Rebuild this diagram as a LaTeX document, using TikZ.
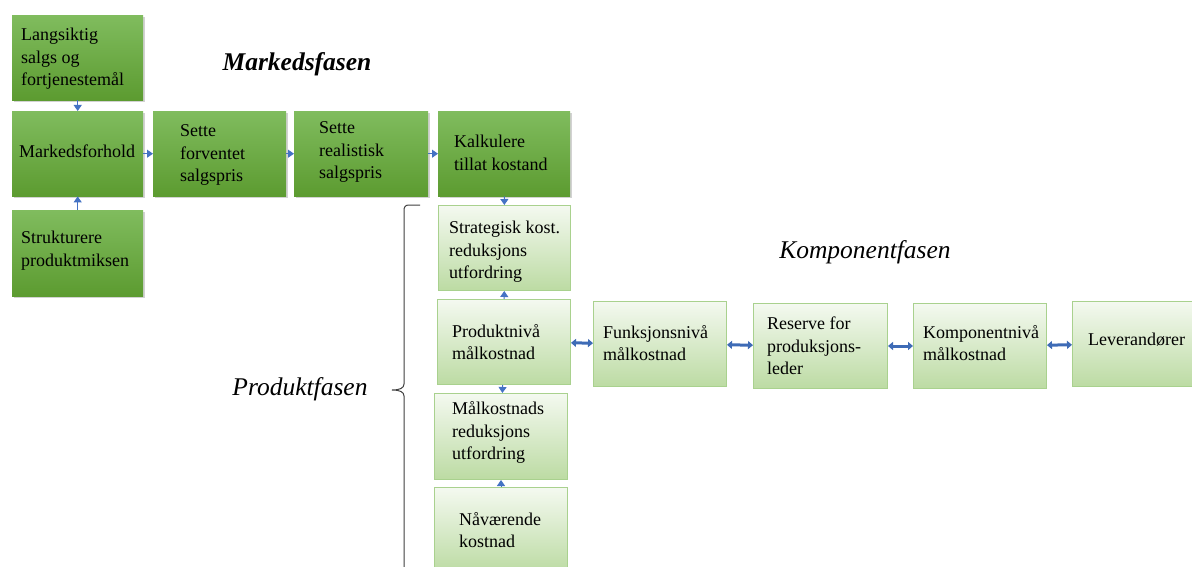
\documentclass[tikz,border=0pt]{standalone}
\usepackage{fontspec}
\setmainfont{LiberationSerif}[Extension=.ttf, UprightFont=*-Regular, BoldFont=*-Bold, ItalicFont=*-Italic, BoldItalicFont=*-BoldItalic]
\usetikzlibrary{arrows.meta,shadows}
\definecolor{dkTop}{HTML}{80BC5E}
\definecolor{dkBot}{HTML}{5C9B30}
\definecolor{ltTop}{HTML}{F4F9F0}
\definecolor{ltBot}{HTML}{BCDBA3}
\definecolor{ltBorder}{HTML}{A9D18E}
\definecolor{arr}{HTML}{4472C4}
\definecolor{darr}{HTML}{3E6BB6}
\tikzset{
  dbox/.style={anchor=north west, inner sep=0pt, draw=none, top color=dkTop, bottom color=dkBot,
    drop shadow={opacity=0.35, shadow xshift=1.5pt, shadow yshift=-2pt}},
  lbox/.style={anchor=north west, inner sep=0pt, draw=ltBorder, line width=1pt, top color=ltTop, bottom color=ltBot},
  txt/.style={anchor=west, align=left, inner sep=0pt, font=\rmfamily\fontsize{18}{22.5}\selectfont},
  sarrow/.style={draw=arr, line width=1pt, -{Triangle[length=6pt,width=8pt]}, shorten >=0pt},
  darrow/.style={draw=darr, line width=3pt, {Triangle[length=5pt,width=8pt]}-{Triangle[length=5pt,width=8pt]}},
  title/.style={inner sep=0pt, font=\rmfamily\fontsize{25.5}{30}\selectfont\itshape}
}
\begin{document}
\begin{tikzpicture}[x=1pt,y=-1pt]
\clip (0,0) rectangle (1192,567);
\fill[white] (0,0) rectangle (1192,567);
% dark green boxes
\node[dbox, minimum width=131pt, minimum height=85pt] (L) at (12,15) {};
\node[dbox, minimum width=131pt, minimum height=85pt] (M) at (12,111) {};
\node[dbox, minimum width=131pt, minimum height=86pt] (S) at (12,210) {};
\node[dbox, minimum width=133pt, minimum height=85pt] (F) at (153,111) {};
\node[dbox, minimum width=134pt, minimum height=85pt] (R) at (294,111) {};
\node[dbox, minimum width=132pt, minimum height=85pt] (K) at (438,111) {};
% light green boxes
\node[lbox, minimum width=132pt, minimum height=85pt] (ST) at (438,205) {};
\node[lbox, minimum width=133pt, minimum height=85pt] (P) at (437,299) {};
\node[lbox, minimum width=133pt, minimum height=86pt] (MK) at (434,393) {};
\node[lbox, minimum width=133pt, minimum height=85pt] (N) at (434,487) {};
\node[lbox, minimum width=133pt, minimum height=85pt] (FN) at (593,301) {};
\node[lbox, minimum width=134pt, minimum height=85pt] (RS) at (753,303) {};
\node[lbox, minimum width=133pt, minimum height=85pt] (KN) at (913,303) {};
\node[lbox, minimum width=125pt, minimum height=85pt] (LV) at (1072,301) {};
% texts
\node[txt] (tL) at ([xshift=9pt,yshift=-1pt]L.west) {Langsiktig\\salgs og\\fortjenestemål};
\node[txt] (tM) at ([xshift=7pt,yshift=2.5pt]M.west) {Markedsforhold};
\node[txt] (tS) at ([xshift=9pt,yshift=2.5pt]S.west) {Strukturere\\produktmiksen};
\node[txt] (tF) at ([xshift=27pt,yshift=-1.5pt]F.west) {Sette\\forventet\\salgspris};
\node[txt] (tR) at ([xshift=25pt,yshift=1.5pt]R.west) {Sette\\realistisk\\salgspris};
\node[txt] (tK) at ([xshift=16pt,yshift=1pt]K.west) {Kalkulere\\tillat kostand};
\node[txt] (tST) at ([xshift=11pt,yshift=-4pt]ST.west) {Strategisk kost.\\reduksjons\\utfordring};
\node[txt] (tP) at ([xshift=15pt]P.west) {Produktnivå\\målkostnad};
\node[txt] (tMK) at ([xshift=18pt,yshift=4pt]MK.west) {Målkostnads\\reduksjons\\utfordring};
\node[txt] (tN) at ([xshift=25pt]N.west) {Nåværende\\kostnad};
\node[txt] (tFN) at ([xshift=10pt,yshift=1pt]FN.west) {Funksjonsnivå\\målkostnad};
\node[txt] (tRS) at ([xshift=14pt]RS.west) {Reserve for\\produksjons-\\leder};
\node[txt] (tKN) at ([xshift=10pt,yshift=3pt]KN.west) {Komponentnivå\\målkostnad};
\node[txt] (tLV) at ([xshift=16pt,yshift=4pt]LV.west) {Leverandører};
% titles
\node[title, font=\rmfamily\fontsize{25.5}{30}\selectfont\bfseries\itshape] (tm) at (297,64) {Markedsfasen};
\node[title] (tk) at (865,252) {Komponentfasen};
\node[title] (tp) at (300,389) {Produktfasen};
% brace
\draw[black!75, line width=1pt] (420,205) -- (409,205) .. controls (405,205) and (404,207) .. (404,211) -- (404,384)
  .. controls (404,388) and (400,390) .. (392,390) .. controls (400,390) and (404,392) .. (404,396) -- (404,570);
% arrows
\draw[sarrow] (L) -- (M);
\draw[sarrow] (S) -- (M);
\draw[sarrow] (M) -- (F);
\draw[sarrow] (F) -- (R);
\draw[sarrow] (R) -- (K);
\draw[sarrow] (K) -- (ST);
\draw[sarrow] (P) -- (ST);
\draw[sarrow] (P) -- (MK);
\draw[sarrow] (N) -- (MK);
\draw[darrow] (P) -- (FN);
\draw[darrow] (FN) -- (RS);
\draw[darrow] (RS) -- (KN);
\draw[darrow] (KN) -- (LV);
\end{tikzpicture}
\end{document}
